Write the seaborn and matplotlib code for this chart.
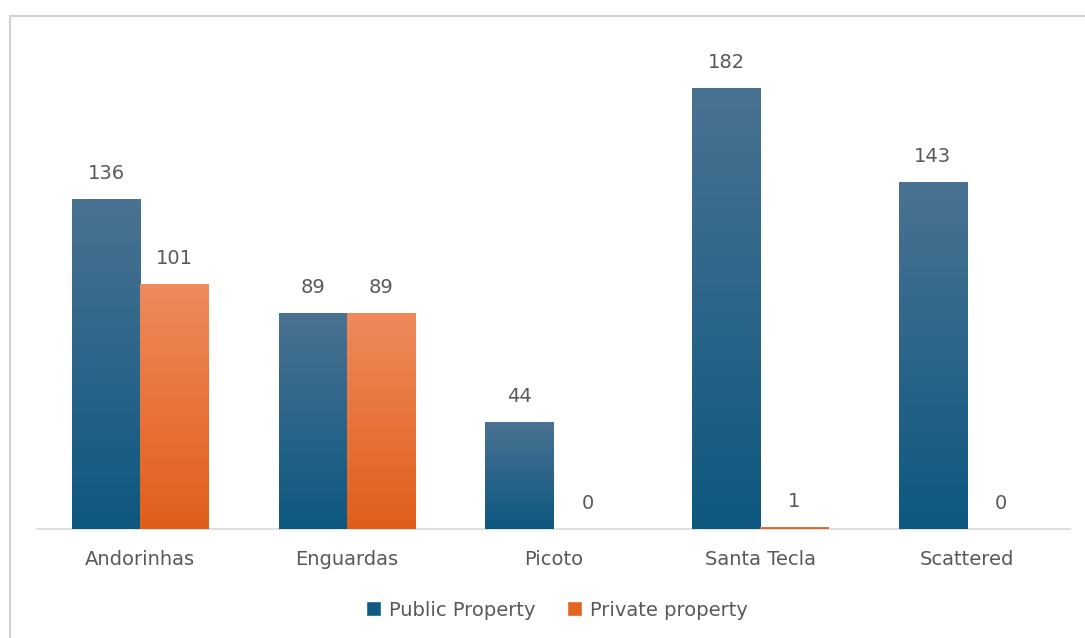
import numpy as np
import pandas as pd
import matplotlib
matplotlib.use("Agg")
import matplotlib.pyplot as plt
from matplotlib.colors import LinearSegmentedColormap
from matplotlib.patches import Rectangle
import seaborn as sns

# Data
sites = ["Andorinhas", "Enguardas", "Picoto", "Santa Tecla", "Scattered"]
public_property = [136, 89, 44, 182, 143]
private_property = [101, 89, 0, 1, 0]
series_names = ["Public Property", "Private property"]

df = pd.DataFrame({
    "site": sites * 2,
    "count": public_property + private_property,
    "series": [series_names[0]] * len(sites) + [series_names[1]] * len(sites),
})

sns.set_theme(style="white")
plt.rcParams["font.family"] = ["DejaVu Sans"]

blue_base = "#0f5a82"
orange_base = "#e3631f"
grad = {
    series_names[0]: ("#4a7292", "#0d5880"),
    series_names[1]: ("#ef8a5c", "#e05e1a"),
}
text_grey = "#595959"
fs = 14

fig = plt.figure(figsize=(10.85, 6.38), dpi=100)
ax = fig.add_axes([37 / 1085, 1 - 529 / 638, (1070 - 37) / 1085, (529 - 44) / 638])

sns.barplot(data=df, x="site", y="count", hue="series", order=sites,
            hue_order=series_names, palette=[blue_base, orange_base],
            width=0.66, gap=0, saturation=1, ax=ax, legend=True)

ax.set_ylim(0, 200)
ax.set_xlim(-0.5, len(sites) - 0.5)

# Vertical gradient fill for each bar, with value labels above
for container, name in zip(ax.containers, series_names):
    top_c, bot_c = grad[name]
    cmap = LinearSegmentedColormap.from_list(name, [bot_c, top_c])
    for bar, val in zip(container.patches, container.datavalues):
        x0, w, h = bar.get_x(), bar.get_width(), bar.get_height()
        bar.set_edgecolor("none")
        if h > 0:
            img = ax.imshow(np.linspace(0, 1, 256).reshape(-1, 1), cmap=cmap,
                            extent=[x0, x0 + w, 0, h], origin="lower",
                            aspect="auto", zorder=bar.get_zorder() + 0.1)
            img.set_clip_path(bar)
        ax.annotate(f"{int(val)}", (x0 + w / 2, h), xytext=(0, 16),
                    textcoords="offset pixels", ha="center", va="bottom",
                    fontsize=fs, color=text_grey)

# Reset limits after imshow
ax.set_ylim(0, 200)
ax.set_xlim(-0.5, len(sites) - 0.5)

ax.set_xlabel("")
ax.set_ylabel("")
ax.set_yticks([])
ax.tick_params(axis="x", length=0, labelsize=fs, labelcolor=text_grey, pad=15)
for s in ["top", "right", "left"]:
    ax.spines[s].set_visible(False)
ax.spines["bottom"].set_color("#d9d9d9")
ax.spines["bottom"].set_linewidth(1.2)
ax.spines["bottom"].set_zorder(0)

handles, labels = ax.get_legend_handles_labels()
ax.get_legend().remove()
fig.legend(handles, labels, loc="center", bbox_to_anchor=(557 / 1085, 1 - 610 / 638),
           ncol=2, frameon=False, fontsize=fs, labelcolor=text_grey,
           handlelength=0.8, handleheight=0.8, handletextpad=0.4, columnspacing=1.6)

# Outer chart border (extends past the right and bottom edges)
fig.patches.append(Rectangle((10 / 1085, -0.05), 1.2, 1 - 16 / 638 + 0.05,
                             transform=fig.transFigure, fill=False,
                             edgecolor="#d0d0d0", linewidth=1.5))

fig.savefig("out.png", dpi=100)
